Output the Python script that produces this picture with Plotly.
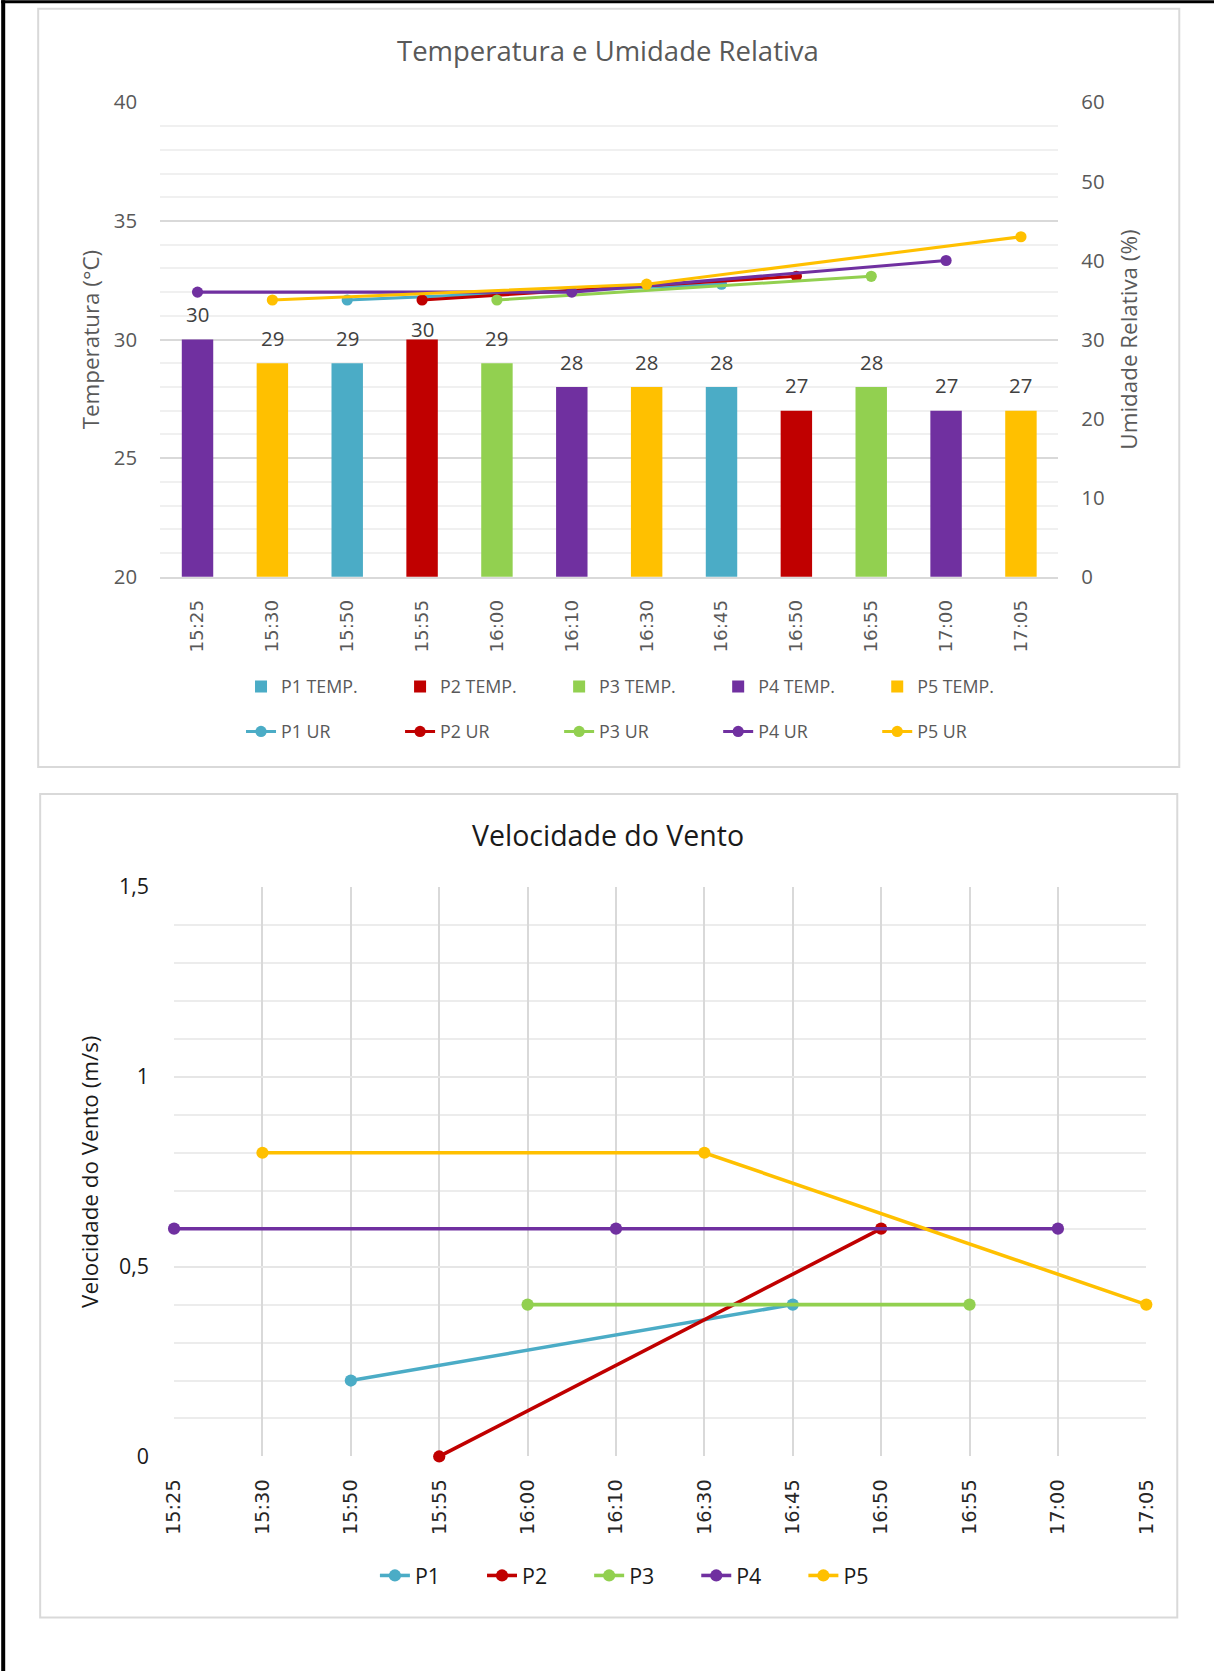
import plotly.graph_objects as go

# Page layout: positions below are page pixels of a 1214x1671 page; the page
# shows the figure at scale S with an offset (OX, OY) in figure pixels.
PAGE_W, PAGE_H = 1214, 1671
S = 0.982
OX, OY = 11, 16
W = round(PAGE_W / S - OX)
H = round(PAGE_H / S - OY)

# Categories (measurement times) and series
horarios = ["15:25", "15:30", "15:50", "15:55", "16:00", "16:10",
            "16:30", "16:45", "16:50", "16:55", "17:00", "17:05"]
pontos = ["P1", "P2", "P3", "P4", "P5"]
cores = ["#4BACC6", "#C00000", "#92D050", "#7030A0", "#FFC000"]

N = None
# Temperatura (°C)
temp_p1 = [N, N, 29, N, N, N, N, 28, N, N, N, N]
temp_p2 = [N, N, N, 30, N, N, N, N, 27, N, N, N]
temp_p3 = [N, N, N, N, 29, N, N, N, N, 28, N, N]
temp_p4 = [30, N, N, N, N, 28, N, N, N, N, 27, N]
temp_p5 = [N, 29, N, N, N, N, 28, N, N, N, N, 27]

# Umidade relativa (%)
ur_p1 = [N, N, 35, N, N, N, N, 37, N, N, N, N]
ur_p2 = [N, N, N, 35, N, N, N, N, 38, N, N, N]
ur_p3 = [N, N, N, N, 35, N, N, N, N, 38, N, N]
ur_p4 = [36, N, N, N, N, 36, N, N, N, N, 40, N]
ur_p5 = [N, 35, N, N, N, N, 37, N, N, N, N, 43]

# Velocidade do vento (m/s)
vento_p1 = [N, N, 0.2, N, N, N, N, 0.4, N, N, N, N]
vento_p2 = [N, N, N, 0, N, N, N, N, 0.6, N, N, N]
vento_p3 = [N, N, N, N, 0.4, N, N, N, N, 0.4, N, N]
vento_p4 = [0.6, N, N, N, N, 0.6, N, N, N, N, 0.6, N]
vento_p5 = [N, 0.8, N, N, N, N, 0.8, N, N, N, N, 0.4]

temps = [temp_p1, temp_p2, temp_p3, temp_p4, temp_p5]
urs = [ur_p1, ur_p2, ur_p3, ur_p4, ur_p5]
ventos = [vento_p1, vento_p2, vento_p3, vento_p4, vento_p5]


def fx(px):
    """Page x (px) -> paper fraction."""
    return (px / S - OX) / W


def fy(py):
    """Page y (px, from top) -> paper fraction."""
    return 1 - (py / S - OY) / H


def sz(v):
    """Page pixel size -> figure pixel size."""
    return v / S


def isz(v):
    return int(round(v / S))


GRAY = "#595959"
DARK = "#1a1a1a"
FONT = "Open Sans"

fig = go.Figure()

# --- Chart 1: temperature bars + humidity lines
for nome, cor, serie in zip(pontos, cores, temps):
    fig.add_trace(go.Bar(
        x=horarios, y=serie, name=f"{nome} TEMP.", marker=dict(color=cor, line=dict(width=0)),
        width=0.42, xaxis="x", yaxis="y", legend="legend", hoverinfo="skip"))

for nome, cor, serie in zip(pontos, cores, urs):
    fig.add_trace(go.Scatter(
        x=horarios, y=serie, name=f"{nome} UR", mode="lines+markers", connectgaps=True,
        line=dict(color=cor, width=sz(3)), marker=dict(color=cor, size=sz(11)),
        xaxis="x", yaxis="y2", legend="legend2", hoverinfo="skip"))

# --- Chart 2: wind speed lines
for nome, cor, serie in zip(pontos, cores, ventos):
    fig.add_trace(go.Scatter(
        x=horarios, y=serie, name=nome, mode="lines+markers", connectgaps=True,
        line=dict(color=cor, width=sz(3.5)), marker=dict(color=cor, size=sz(12)),
        cliponaxis=False, xaxis="x2", yaxis="y3", legend="legend3", hoverinfo="skip"))

# Data labels on bars (with per-label vertical offset)
label_shift = {"15:55": 10}
annotations = []
for serie in temps:
    for h, v in zip(horarios, serie):
        if v is None:
            continue
        annotations.append(dict(
            x=h, y=v, xref="x", yref="y", text=str(v), showarrow=False,
            yanchor="middle", yshift=sz(label_shift.get(h, 25)),
            font=dict(family=FONT, size=sz(20), color="#404040")))

# Chart titles
annotations.append(dict(
    x=fx(607), y=fy(50), xref="paper", yref="paper", text="Temperatura e Umidade Relativa",
    showarrow=False, xanchor="center", yanchor="middle",
    font=dict(family=FONT, size=sz(27), color=GRAY)))
annotations.append(dict(
    x=fx(607), y=fy(834), xref="paper", yref="paper", text="Velocidade do Vento",
    showarrow=False, xanchor="center", yanchor="middle",
    font=dict(family=FONT, size=sz(28), color=DARK)))

# Chart boxes and page frame
shapes = [
    dict(type="rect", xref="paper", yref="paper", x0=fx(37), x1=fx(1179), y0=fy(766), y1=fy(8.5),
         line=dict(color="#d9d9d9", width=2), fillcolor="rgba(0,0,0,0)", layer="below"),
    dict(type="rect", xref="paper", yref="paper", x0=fx(39), x1=fx(1177), y0=fy(1616), y1=fy(793),
         line=dict(color="#d9d9d9", width=2), fillcolor="rgba(0,0,0,0)", layer="below"),
    dict(type="rect", xref="paper", yref="paper", x0=fx(0), x1=fx(PAGE_W), y0=fy(3), y1=fy(0),
         line=dict(width=0), fillcolor="black"),
    dict(type="rect", xref="paper", yref="paper", x0=fx(0), x1=fx(4), y0=fy(PAGE_H), y1=fy(0),
         line=dict(width=0), fillcolor="black"),
]

fig.update_layout(
    width=W, height=H,
    margin=dict(l=0, r=0, t=0, b=0),
    paper_bgcolor="white", plot_bgcolor="white",
    separators=",.",
    barmode="overlay",
    showlegend=True,
    annotations=annotations,
    shapes=shapes,
    xaxis=dict(
        domain=[fx(159), fx(1058)], anchor="y", type="category",
        categoryorder="array", categoryarray=horarios, range=[-0.5, 11.5],
        tickangle=-90, tickfont=dict(family="DejaVu Sans", size=sz(18), color=GRAY),
        showgrid=False, showline=True, linecolor="#d9d9d9", linewidth=1.5,
        ticks="", ticklabelstandoff=isz(14), fixedrange=True),
    yaxis=dict(
        domain=[fy(576), fy(102)], anchor="x", range=[20, 40], dtick=5,
        showgrid=True, gridcolor="#d9d9d9", gridwidth=1.5, zeroline=False,
        minor=dict(dtick=1, showgrid=True, gridcolor="#f0f0f0", gridwidth=1.5),
        tickfont=dict(family=FONT, size=sz(20), color=GRAY), ticks="", ticklabelstandoff=isz(22),
        title=dict(text="Temperatura (°C)", font=dict(family=FONT, size=sz(22), color=GRAY),
                   standoff=isz(7))),
    yaxis2=dict(
        overlaying="y", anchor="x", side="right", range=[0, 60], dtick=10,
        showgrid=False, zeroline=False,
        tickfont=dict(family=FONT, size=sz(20), color=GRAY), ticks="", ticklabelstandoff=isz(22),
        title=dict(text="Umidade Relativa (%)", font=dict(family=FONT, size=sz(22), color=GRAY),
                   standoff=isz(17))),
    xaxis2=dict(
        domain=[fx(173), fx(1146)], anchor="y3", type="category",
        categoryorder="array", categoryarray=horarios, range=[0, 11],
        tickangle=-90, tickfont=dict(family="DejaVu Sans", size=sz(19), color="#262626"),
        showgrid=True, gridcolor="#d9d9d9", gridwidth=1.5, showline=False,
        ticks="", ticklabelstandoff=isz(18), fixedrange=True),
    yaxis3=dict(
        domain=[fy(1455), fy(886)], anchor="x2", range=[0, 1.5], dtick=0.5,
        showgrid=True, gridcolor="#e6e6e6", gridwidth=1.5, zeroline=False,
        minor=dict(dtick=0.1, showgrid=True, gridcolor="#ececec", gridwidth=1.5),
        tickfont=dict(family=FONT, size=sz(21), color=DARK), ticks="", ticklabelstandoff=isz(24),
        title=dict(text="Velocidade do Vento (m/s)", font=dict(family=FONT, size=sz(22), color=DARK),
                   standoff=isz(14))),
    legend=dict(
        orientation="h", x=fx(240), xanchor="left", y=fy(686), yanchor="middle",
        entrywidth=sz(112), traceorder="normal", bgcolor="rgba(0,0,0,0)",
        font=dict(family=FONT, size=sz(17.5), color=GRAY)),
    legend2=dict(
        orientation="h", x=fx(240), xanchor="left", y=fy(731), yanchor="middle",
        entrywidth=sz(112), traceorder="normal", bgcolor="rgba(0,0,0,0)",
        font=dict(family=FONT, size=sz(17.5), color=GRAY)),
    legend3=dict(
        orientation="h", x=fx(374), xanchor="left", y=fy(1574), yanchor="middle",
        entrywidth=sz(61), traceorder="normal", bgcolor="rgba(0,0,0,0)",
        font=dict(family=FONT, size=sz(21), color=DARK)),
)

fig.write_html("out.html")
